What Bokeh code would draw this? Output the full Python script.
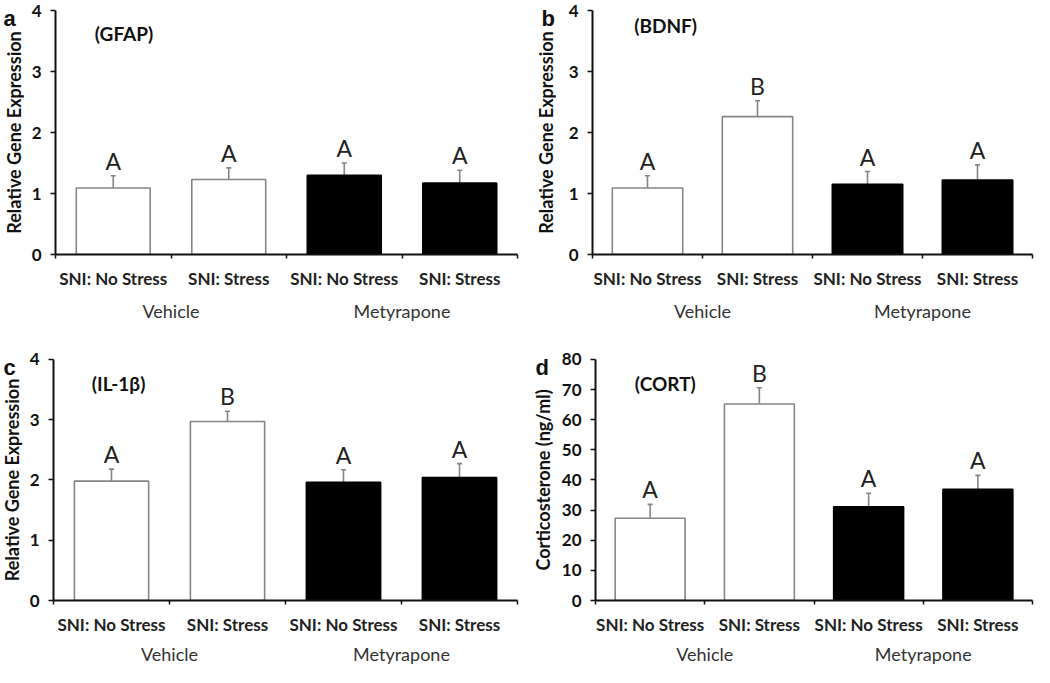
import math
from bokeh.plotting import figure
from bokeh.layouts import column, row
from bokeh.models import (ColumnDataSource, FixedTicker, LinearAxis, Whisker,
                          TeeHead, Label, Range1d)
from bokeh.core.properties import value
from bokeh.embed import file_html
from bokeh.resources import INLINE

# ---------------- data ----------------
categories = ["SNI: No Stress", "SNI: Stress", "SNI: No Stress", "SNI: Stress"]
groups = ["Vehicle", "Metyrapone"]
treatment = ["Vehicle", "Vehicle", "Metyrapone", "Metyrapone"]

gfap_mean = [1.09, 1.23, 1.30, 1.17]
gfap_err = [0.20, 0.19, 0.20, 0.21]
gfap_letters = ["A", "A", "A", "A"]

bdnf_mean = [1.09, 2.26, 1.15, 1.22]
bdnf_err = [0.20, 0.26, 0.21, 0.25]
bdnf_letters = ["A", "B", "A", "A"]

il1b_mean = [1.98, 2.97, 1.96, 2.04]
il1b_err = [0.20, 0.17, 0.21, 0.23]
il1b_letters = ["A", "B", "A", "A"]

cort_mean = [27.3, 65.2, 31.1, 36.9]
cort_err = [4.6, 5.4, 4.5, 4.6]
cort_letters = ["A", "B", "A", "A"]

panels = [
    dict(letter="a", tag="(GFAP)", ylabel="Relative Gene Expression",
         mean=gfap_mean, err=gfap_err, letters=gfap_letters, ymax=4, step=1),
    dict(letter="b", tag="(BDNF)", ylabel="Relative Gene Expression",
         mean=bdnf_mean, err=bdnf_err, letters=bdnf_letters, ymax=4, step=1),
    dict(letter="c", tag="(IL-1\u03b2)", ylabel="Relative Gene Expression",
         mean=il1b_mean, err=il1b_err, letters=il1b_letters, ymax=4, step=1),
    dict(letter="d", tag="(CORT)", ylabel="Corticosterone (ng/ml)",
         mean=cort_mean, err=cort_err, letters=cort_letters, ymax=80, step=10),
]

FONT = "Lato"
GRAY = "#858585"
INK = "#111111"

AXIS_H = 244      # pixel height of the 0..ymax span
TOP_PAD = 10      # room above the top tick (inside the frame)
TOP_ROW = dict(bottom=95, gstand=8)
BOT_ROW = dict(bottom=64, gstand=5)


def make_strip(d, width, rowcfg, letter_x, label_x):
    """Narrow figure (frame aligned with the panel's) holding the panel
    letter and the rotated y-axis title."""
    height = AXIS_H + TOP_PAD + rowcfg["bottom"]
    s = figure(width=width, height=height, output_backend="svg",
               toolbar_location=None, x_range=Range1d(0, width),
               y_range=Range1d(0, AXIS_H + TOP_PAD), min_border=0,
               min_border_bottom=rowcfg["bottom"],
               x_axis_location=None, y_axis_location=None)
    s.outline_line_color = None
    s.grid.visible = False
    s.text(x=[letter_x], y=[AXIS_H - 8], text=[d["letter"]],
           text_font=value("Liberation Sans"), text_font_style="bold",
           text_font_size="22px", text_align="left",
           text_baseline="alphabetic", text_color=INK)
    s.text(x=[label_x], y=[AXIS_H / 2], text=[d["ylabel"]],
           angle=math.pi / 2, text_font=value(FONT), text_font_style="bold",
           text_font_size="18px", text_align="center", text_baseline="middle",
           text_color=INK)
    return s


def make_panel(d, width, rowcfg, b_left, b_right, tag_x, tag_y):
    n = len(categories)
    height = AXIS_H + TOP_PAD + rowcfg["bottom"]
    x = [i + 0.5 for i in range(n)]
    fills = ["white" if t == groups[0] else "black" for t in treatment]
    lines = [GRAY if t == groups[0] else "black" for t in treatment]
    tops = [m + e for m, e in zip(d["mean"], d["err"])]
    src = ColumnDataSource(dict(x=x, mean=d["mean"], top=tops, fill=fills,
                                line=lines, letters=d["letters"]))

    p = figure(width=width, height=height, output_backend="svg",
               toolbar_location=None, x_range=Range1d(0, n),
               y_range=Range1d(0, d["ymax"] * (AXIS_H + TOP_PAD) / AXIS_H),
               min_border_left=b_left, min_border_right=b_right,
               min_border_top=0, min_border_bottom=rowcfg["bottom"],
               x_axis_location=None)
    p.outline_line_color = None
    p.grid.visible = False
    p.background_fill_color = "white"
    p.border_fill_color = "white"

    p.vbar(x="x", top="mean", bottom=0, width=0.64, source=src,
           fill_color="fill", line_color="line", line_width=1.6)
    p.add_layout(Whisker(base="x", lower="mean", upper="top", source=src,
                         line_color=GRAY, line_width=1.6,
                         upper_head=TeeHead(size=5, line_color=GRAY, line_width=1.6),
                         lower_head=None))
    p.text(x="x", y="top", text="letters", source=src, text_align="center",
           text_baseline="bottom", y_offset=-1, text_font=value(FONT),
           text_font_size="23px", text_color="#222222")

    ya = p.yaxis[0]
    ya.bounds = (0, d["ymax"])
    ya.ticker = FixedTicker(ticks=list(range(0, d["ymax"] + 1, d["step"])))
    ya.major_label_text_font = FONT
    ya.major_label_text_font_style = "bold"
    ya.major_label_text_font_size = "17px"
    ya.major_label_text_color = INK
    ya.major_label_standoff = 9
    ya.major_tick_out = 5
    ya.major_tick_in = 0
    ya.minor_tick_line_color = None
    ya.axis_line_width = 2
    ya.axis_line_color = INK
    ya.major_tick_line_color = INK
    ya.major_tick_line_width = 1.5

    xa = LinearAxis(ticker=FixedTicker(ticks=x, minor_ticks=list(range(0, n + 1))))
    xa.major_label_overrides = {v: c for v, c in zip(x, categories)}
    xa.major_tick_line_color = None
    xa.major_tick_out = 0
    xa.major_tick_in = 0
    xa.minor_tick_out = 4
    xa.minor_tick_in = 0
    xa.minor_tick_line_color = INK
    xa.minor_tick_line_width = 1.5
    xa.axis_line_width = 2
    xa.axis_line_color = INK
    xa.major_label_text_font = FONT
    xa.major_label_text_font_style = "bold"
    xa.major_label_text_font_size = "17px"
    xa.major_label_text_color = "#222222"
    xa.major_label_standoff = 9
    p.add_layout(xa, "below")

    gx = [1.0, 3.0]
    ga = LinearAxis(ticker=FixedTicker(ticks=gx, minor_ticks=[]))
    ga.major_label_overrides = {v: g for v, g in zip(gx, groups)}
    ga.axis_line_color = None
    ga.major_tick_line_color = None
    ga.minor_tick_line_color = None
    ga.major_tick_out = 0
    ga.major_tick_in = 0
    ga.major_label_text_font = FONT
    ga.major_label_text_font_size = "18px"
    ga.major_label_text_color = "#333333"
    ga.major_label_standoff = rowcfg["gstand"]
    p.add_layout(ga, "below")

    p.add_layout(Label(x=tag_x, y=tag_y * d["ymax"], text=d["tag"],
                       text_font=FONT, text_font_style="bold",
                       text_font_size="19px", text_baseline="middle",
                       text_color=INK))
    return p


sa = make_strip(panels[0], 24, TOP_ROW, 3, 13)
pa = make_panel(panels[0], 496, TOP_ROW, 31, 3, 0.34, 0.905)
sb = make_strip(panels[1], 36, TOP_ROW, 21, 25)
pb = make_panel(panels[1], 478, TOP_ROW, 36, 2, 0.38, 0.94)
sc = make_strip(panels[2], 24, BOT_ROW, 3, 11)
pc = make_panel(panels[2], 496, BOT_ROW, 29, 3, 0.33, 0.90)
sd = make_strip(panels[3], 36, BOT_ROW, 15, 22)
pd = make_panel(panels[3], 478, BOT_ROW, 39, 2, 0.36, 0.90)

layout = column(row(sa, pa, sb, pb), row(sc, pc, sd, pd))
open("out.html", "w").write(file_html(layout, INLINE))
